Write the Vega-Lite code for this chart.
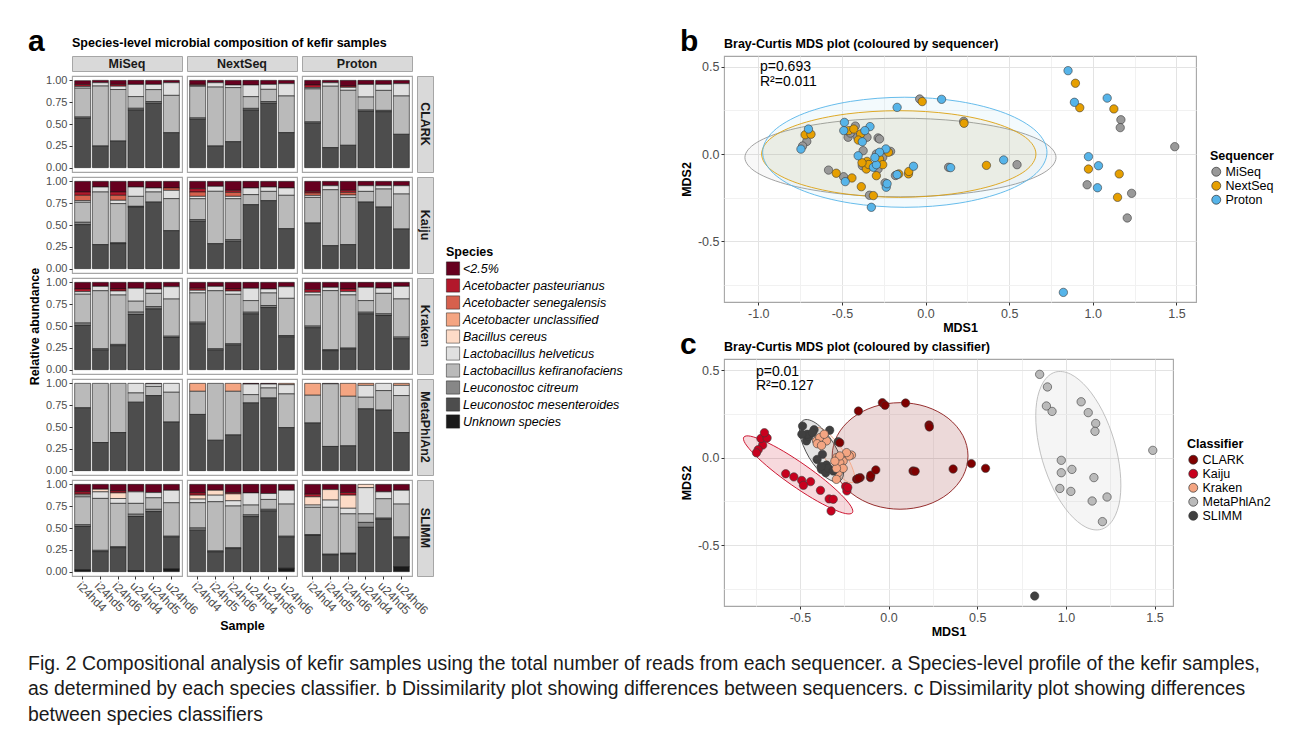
{
"$schema":"https://vega.github.io/schema/vega-lite/v6.json",
"padding":{"left":28,"top":26,"right":5,"bottom":5},
"background":"white",
"datasets":{
"bars":[
{"c":"CLARK","q":"MiSeq","s":"i24hd4","o":0.046,"ap":0.02,"lh":0.02,"lk":0.33,"lc":0.015,"lm":0.565},
{"c":"CLARK","q":"MiSeq","s":"i24hd5","o":0.027,"lh":0.038,"lk":0.687,"lm":0.248},
{"c":"CLARK","q":"MiSeq","s":"i24hd6","o":0.046,"ap":0.02,"lh":0.038,"lk":0.59,"lm":0.305},
{"c":"CLARK","q":"MiSeq","s":"u24hd4","o":0.046,"lh":0.14,"lk":0.134,"lc":0.02,"lm":0.66},
{"c":"CLARK","q":"MiSeq","s":"u24hd5","o":0.046,"lh":0.06,"lk":0.137,"lc":0.02,"lm":0.737},
{"c":"CLARK","q":"MiSeq","s":"u24hd6","o":0.027,"lh":0.145,"lk":0.428,"lm":0.4},
{"c":"CLARK","q":"NextSeq","s":"i24hd4","o":0.046,"ap":0.012,"lh":0.01,"lk":0.363,"lc":0.016,"lm":0.553},
{"c":"CLARK","q":"NextSeq","s":"i24hd5","o":0.027,"lh":0.05,"lk":0.675,"lm":0.248},
{"c":"CLARK","q":"NextSeq","s":"i24hd6","o":0.053,"lh":0.03,"lk":0.62,"lm":0.297},
{"c":"CLARK","q":"NextSeq","s":"u24hd4","o":0.053,"lh":0.134,"lk":0.134,"lc":0.02,"lm":0.659},
{"c":"CLARK","q":"NextSeq","s":"u24hd5","o":0.046,"lh":0.057,"lk":0.14,"lc":0.02,"lm":0.737},
{"c":"CLARK","q":"NextSeq","s":"u24hd6","o":0.038,"lh":0.141,"lk":0.42,"lm":0.401},
{"c":"CLARK","q":"Proton","s":"i24hd4","o":0.053,"ap":0.03,"lh":0.015,"lk":0.378,"lc":0.015,"lm":0.509},
{"c":"CLARK","q":"Proton","s":"i24hd5","o":0.027,"lh":0.04,"lk":0.704,"lm":0.229},
{"c":"CLARK","q":"Proton","s":"i24hd6","o":0.065,"ap":0.015,"lh":0.034,"lk":0.63,"lm":0.256},
{"c":"CLARK","q":"Proton","s":"u24hd4","o":0.046,"lh":0.145,"lk":0.149,"lc":0.015,"lm":0.645},
{"c":"CLARK","q":"Proton","s":"u24hd5","o":0.046,"lh":0.069,"lk":0.229,"lc":0.015,"lm":0.641},
{"c":"CLARK","q":"Proton","s":"u24hd6","o":0.038,"lh":0.141,"lk":0.439,"lm":0.382},
{"c":"Kaiju","q":"MiSeq","s":"i24hd4","o":0.122,"ap":0.038,"as":0.061,"lh":0.019,"lk":0.229,"lc":0.027,"lm":0.504},
{"c":"Kaiju","q":"MiSeq","s":"i24hd5","o":0.065,"lh":0.057,"lk":0.603,"lm":0.275},
{"c":"Kaiju","q":"MiSeq","s":"i24hd6","o":0.122,"ap":0.038,"as":0.057,"lh":0.038,"lk":0.449,"lc":0.01,"lm":0.286},
{"c":"Kaiju","q":"MiSeq","s":"u24hd4","o":0.065,"lh":0.107,"lk":0.114,"lc":0.008,"lm":0.706},
{"c":"Kaiju","q":"MiSeq","s":"u24hd5","o":0.076,"lh":0.046,"lk":0.115,"lm":0.763},
{"c":"Kaiju","q":"MiSeq","s":"u24hd6","o":0.076,"as":0.027,"lh":0.095,"lk":0.367,"lm":0.435},
{"c":"Kaiju","q":"NextSeq","s":"i24hd4","o":0.084,"ap":0.038,"as":0.05,"lh":0.027,"lk":0.24,"lc":0.019,"lm":0.542},
{"c":"Kaiju","q":"NextSeq","s":"i24hd5","o":0.057,"lh":0.057,"lk":0.6,"lm":0.286},
{"c":"Kaiju","q":"NextSeq","s":"i24hd6","o":0.103,"ap":0.023,"as":0.046,"lh":0.027,"lk":0.469,"lc":0.019,"lm":0.313},
{"c":"Kaiju","q":"NextSeq","s":"u24hd4","o":0.076,"lh":0.076,"lk":0.115,"lm":0.733},
{"c":"Kaiju","q":"NextSeq","s":"u24hd5","o":0.065,"lh":0.05,"lk":0.106,"lm":0.779},
{"c":"Kaiju","q":"NextSeq","s":"u24hd6","o":0.076,"lh":0.084,"lk":0.382,"lm":0.458},
{"c":"Kaiju","q":"Proton","s":"i24hd4","o":0.115,"ap":0.019,"as":0.027,"lh":0.023,"lk":0.293,"lm":0.523},
{"c":"Kaiju","q":"Proton","s":"i24hd5","o":0.05,"lh":0.046,"lk":0.641,"lm":0.263},
{"c":"Kaiju","q":"Proton","s":"i24hd6","o":0.103,"ap":0.023,"as":0.031,"lh":0.027,"lk":0.541,"lm":0.275},
{"c":"Kaiju","q":"Proton","s":"u24hd4","o":0.05,"lh":0.065,"lk":0.122,"lm":0.763},
{"c":"Kaiju","q":"Proton","s":"u24hd5","o":0.05,"lh":0.038,"lk":0.206,"lm":0.706},
{"c":"Kaiju","q":"Proton","s":"u24hd6","o":0.05,"lh":0.095,"lk":0.401,"lm":0.454},
{"c":"Kraken","q":"MiSeq","s":"i24hd4","o":0.076,"ap":0.03,"lh":0.03,"lk":0.33,"lc":0.027,"lm":0.507},
{"c":"Kraken","q":"MiSeq","s":"i24hd5","o":0.046,"lh":0.05,"lk":0.665,"lc":0.015,"lm":0.224},
{"c":"Kraken","q":"MiSeq","s":"i24hd6","o":0.076,"ap":0.023,"lh":0.046,"lk":0.566,"lc":0.015,"lm":0.274},
{"c":"Kraken","q":"MiSeq","s":"u24hd4","o":0.068,"lh":0.148,"lk":0.125,"lc":0.027,"lm":0.632},
{"c":"Kraken","q":"MiSeq","s":"u24hd5","o":0.076,"lh":0.05,"lk":0.152,"lc":0.027,"lm":0.695},
{"c":"Kraken","q":"MiSeq","s":"u24hd6","o":0.05,"lh":0.141,"lk":0.426,"lc":0.015,"lm":0.368},
{"c":"Kraken","q":"NextSeq","s":"i24hd4","o":0.068,"ap":0.023,"lh":0.03,"lk":0.335,"lc":0.019,"lm":0.525},
{"c":"Kraken","q":"NextSeq","s":"i24hd5","o":0.046,"lh":0.05,"lk":0.665,"lc":0.015,"lm":0.224},
{"c":"Kraken","q":"NextSeq","s":"i24hd6","o":0.076,"ap":0.023,"lh":0.038,"lk":0.567,"lc":0.015,"lm":0.281},
{"c":"Kraken","q":"NextSeq","s":"u24hd4","o":0.068,"lh":0.141,"lk":0.133,"lc":0.019,"lm":0.639},
{"c":"Kraken","q":"NextSeq","s":"u24hd5","o":0.076,"lh":0.046,"lk":0.144,"lc":0.023,"lm":0.711},
{"c":"Kraken","q":"NextSeq","s":"u24hd6","o":0.05,"lh":0.133,"lk":0.426,"lc":0.015,"lm":0.376},
{"c":"Kraken","q":"Proton","s":"i24hd4","o":0.084,"ap":0.03,"lh":0.03,"lk":0.357,"lc":0.019,"lm":0.48},
{"c":"Kraken","q":"Proton","s":"i24hd5","o":0.057,"lh":0.038,"lk":0.677,"lc":0.011,"lm":0.217},
{"c":"Kraken","q":"Proton","s":"i24hd6","o":0.076,"ap":0.03,"lh":0.038,"lk":0.609,"lc":0.011,"lm":0.236},
{"c":"Kraken","q":"Proton","s":"u24hd4","o":0.057,"lh":0.152,"lk":0.133,"lc":0.019,"lm":0.639},
{"c":"Kraken","q":"Proton","s":"u24hd5","o":0.065,"lh":0.061,"lk":0.235,"lc":0.019,"lm":0.62},
{"c":"Kraken","q":"Proton","s":"u24hd6","o":0.046,"lh":0.144,"lk":0.437,"lc":0.019,"lm":0.354},
{"c":"MetaPhlAn2","q":"MiSeq","s":"i24hd4","lk":0.28,"lm":0.72},
{"c":"MetaPhlAn2","q":"MiSeq","s":"i24hd5","lk":0.678,"lm":0.322},
{"c":"MetaPhlAn2","q":"MiSeq","s":"i24hd6","lk":0.564,"lm":0.436},
{"c":"MetaPhlAn2","q":"MiSeq","s":"u24hd4","lh":0.11,"lk":0.106,"lm":0.784},
{"c":"MetaPhlAn2","q":"MiSeq","s":"u24hd5","o":0.005,"lh":0.03,"lk":0.105,"lm":0.86},
{"c":"MetaPhlAn2","q":"MiSeq","s":"u24hd6","lh":0.102,"lk":0.341,"lm":0.557},
{"c":"MetaPhlAn2","q":"NextSeq","s":"i24hd4","au":0.091,"lk":0.265,"lm":0.644},
{"c":"MetaPhlAn2","q":"NextSeq","s":"i24hd5","lk":0.652,"lm":0.348},
{"c":"MetaPhlAn2","q":"NextSeq","s":"i24hd6","au":0.091,"lk":0.5,"lm":0.409},
{"c":"MetaPhlAn2","q":"NextSeq","s":"u24hd4","o":0.008,"lh":0.121,"lk":0.095,"lm":0.776},
{"c":"MetaPhlAn2","q":"NextSeq","s":"u24hd5","o":0.008,"lh":0.045,"lk":0.114,"lm":0.833},
{"c":"MetaPhlAn2","q":"NextSeq","s":"u24hd6","au":0.015,"lh":0.106,"lk":0.386,"lm":0.493},
{"c":"MetaPhlAn2","q":"Proton","s":"i24hd4","au":0.136,"lk":0.318,"lm":0.546},
{"c":"MetaPhlAn2","q":"Proton","s":"i24hd5","o":0.005,"lk":0.718,"lm":0.277},
{"c":"MetaPhlAn2","q":"Proton","s":"i24hd6","au":0.148,"lk":0.568,"lm":0.284},
{"c":"MetaPhlAn2","q":"Proton","s":"u24hd4","au":0.023,"lh":0.136,"lk":0.133,"lm":0.708},
{"c":"MetaPhlAn2","q":"Proton","s":"u24hd5","lh":0.083,"lk":0.223,"lm":0.694},
{"c":"MetaPhlAn2","q":"Proton","s":"u24hd6","au":0.023,"lh":0.117,"lk":0.424,"lm":0.436},
{"c":"SLIMM","q":"MiSeq","s":"i24hd4","o":0.086,"ap":0.026,"bc":0.011,"lh":0.02,"lk":0.32,"lc":0.019,"lm":0.499,"u":0.019},
{"c":"SLIMM","q":"MiSeq","s":"i24hd5","o":0.056,"bc":0.03,"lh":0.075,"lk":0.595,"lc":0.015,"lm":0.229},
{"c":"SLIMM","q":"MiSeq","s":"i24hd6","o":0.075,"ap":0.023,"bc":0.064,"lh":0.056,"lk":0.497,"lc":0.011,"lm":0.274},
{"c":"SLIMM","q":"MiSeq","s":"u24hd4","o":0.086,"lh":0.132,"lk":0.124,"lc":0.026,"lm":0.621,"u":0.011},
{"c":"SLIMM","q":"MiSeq","s":"u24hd5","o":0.094,"lh":0.06,"lk":0.132,"lc":0.026,"lm":0.688},
{"c":"SLIMM","q":"MiSeq","s":"u24hd6","o":0.068,"lh":0.143,"lk":0.383,"lc":0.011,"lm":0.365,"u":0.03},
{"c":"SLIMM","q":"NextSeq","s":"i24hd4","o":0.098,"ap":0.026,"bc":0.045,"lh":0.041,"lk":0.29,"lc":0.026,"lm":0.474},
{"c":"SLIMM","q":"NextSeq","s":"i24hd5","o":0.068,"bc":0.056,"lh":0.075,"lk":0.564,"lc":0.011,"lm":0.226},
{"c":"SLIMM","q":"NextSeq","s":"i24hd6","o":0.094,"ap":0.015,"bc":0.079,"lh":0.06,"lk":0.478,"lc":0.011,"lm":0.263},
{"c":"SLIMM","q":"NextSeq","s":"u24hd4","o":0.098,"lh":0.139,"lk":0.113,"lc":0.019,"lm":0.631},
{"c":"SLIMM","q":"NextSeq","s":"u24hd5","o":0.105,"lh":0.068,"lk":0.113,"lc":0.019,"lm":0.695},
{"c":"SLIMM","q":"NextSeq","s":"u24hd6","o":0.068,"lh":0.158,"lk":0.368,"lc":0.011,"lm":0.357,"u":0.038},
{"c":"SLIMM","q":"Proton","s":"i24hd4","o":0.113,"ap":0.03,"bc":0.094,"lh":0.026,"lk":0.312,"lc":0.011,"lm":0.414},
{"c":"SLIMM","q":"Proton","s":"i24hd5","o":0.06,"bc":0.12,"lh":0.083,"lk":0.537,"lc":0.008,"lm":0.192},
{"c":"SLIMM","q":"Proton","s":"i24hd6","o":0.094,"ap":0.03,"bc":0.15,"lh":0.064,"lk":0.451,"lc":0.008,"lm":0.203},
{"c":"SLIMM","q":"Proton","s":"u24hd4","bc":0.038,"lh":0.3,"lk":0.098,"lc":0.056,"lm":0.508},
{"c":"SLIMM","q":"Proton","s":"u24hd5","o":0.086,"lh":0.079,"lk":0.222,"lc":0.011,"lm":0.602},
{"c":"SLIMM","q":"Proton","s":"u24hd6","o":0.068,"lh":0.158,"lk":0.376,"lc":0.011,"lm":0.331,"u":0.056}
],
"pts":[
{"cls":"Kaiju","seq":"MiSeq","x":-0.71,"y":0.072},{"cls":"Kaiju","seq":"MiSeq","x":-0.735,"y":0.046},{"cls":"Kaiju","seq":"MiSeq","x":-0.58,"y":-0.092},{"cls":"Kaiju","seq":"MiSeq","x":-0.49,"y":-0.13},{"cls":"Kaiju","seq":"MiSeq","x":-0.335,"y":-0.236},{"cls":"Kaiju","seq":"MiSeq","x":-0.242,"y":-0.165},
{"cls":"SLIMM","seq":"MiSeq","x":-0.463,"y":0.096},{"cls":"SLIMM","seq":"MiSeq","x":-0.284,"y":0.092},{"cls":"SLIMM","seq":"MiSeq","x":-0.373,"y":0.019},{"cls":"SLIMM","seq":"MiSeq","x":-0.378,"y":-0.067},{"cls":"SLIMM","seq":"MiSeq","x":-0.45,"y":0.12},{"cls":"SLIMM","seq":"MiSeq","x":-0.42,"y":0.16},
{"cls":"Kraken","seq":"MiSeq","x":-0.406,"y":0.096},{"cls":"Kraken","seq":"MiSeq","x":-0.35,"y":0.096},{"cls":"Kraken","seq":"MiSeq","x":-0.294,"y":0.0},{"cls":"Kraken","seq":"MiSeq","x":-0.284,"y":-0.086},{"cls":"Kraken","seq":"MiSeq","x":-0.209,"y":0.015},{"cls":"Kraken","seq":"MiSeq","x":-0.256,"y":-0.019},
{"cls":"CLARK","seq":"MiSeq","x":-0.035,"y":0.315},{"cls":"CLARK","seq":"MiSeq","x":0.228,"y":0.187},{"cls":"CLARK","seq":"MiSeq","x":-0.18,"y":-0.123},{"cls":"CLARK","seq":"MiSeq","x":0.138,"y":-0.076},{"cls":"CLARK","seq":"MiSeq","x":0.547,"y":-0.061},{"cls":"CLARK","seq":"MiSeq","x":-0.275,"y":0.086},
{"cls":"MetaPhlAn2","seq":"MiSeq","x":1.168,"y":0.196},{"cls":"MetaPhlAn2","seq":"MiSeq","x":1.164,"y":0.151},{"cls":"MetaPhlAn2","seq":"MiSeq","x":1.49,"y":0.042},{"cls":"MetaPhlAn2","seq":"MiSeq","x":0.966,"y":-0.176},{"cls":"MetaPhlAn2","seq":"MiSeq","x":1.232,"y":-0.225},{"cls":"MetaPhlAn2","seq":"MiSeq","x":1.206,"y":-0.366},
{"cls":"Kaiju","seq":"NextSeq","x":-0.72,"y":0.11},{"cls":"Kaiju","seq":"NextSeq","x":-0.685,"y":0.113},{"cls":"Kaiju","seq":"NextSeq","x":-0.534,"y":-0.11},{"cls":"Kaiju","seq":"NextSeq","x":-0.44,"y":-0.137},{"cls":"Kaiju","seq":"NextSeq","x":-0.384,"y":-0.187},{"cls":"Kaiju","seq":"NextSeq","x":-0.312,"y":-0.238},
{"cls":"SLIMM","seq":"NextSeq","x":-0.459,"y":0.134},{"cls":"SLIMM","seq":"NextSeq","x":-0.429,"y":0.143},{"cls":"SLIMM","seq":"NextSeq","x":-0.35,"y":-0.042},{"cls":"SLIMM","seq":"NextSeq","x":-0.354,"y":-0.086},{"cls":"SLIMM","seq":"NextSeq","x":-0.34,"y":-0.06},{"cls":"SLIMM","seq":"NextSeq","x":-0.38,"y":-0.05},
{"cls":"Kraken","seq":"NextSeq","x":-0.388,"y":0.115},{"cls":"Kraken","seq":"NextSeq","x":-0.402,"y":0.08},{"cls":"Kraken","seq":"NextSeq","x":-0.275,"y":-0.029},{"cls":"Kraken","seq":"NextSeq","x":-0.256,"y":-0.061},{"cls":"Kraken","seq":"NextSeq","x":-0.222,"y":0.01},{"cls":"Kraken","seq":"NextSeq","x":-0.294,"y":-0.124},
{"cls":"CLARK","seq":"NextSeq","x":-0.02,"y":0.3},{"cls":"CLARK","seq":"NextSeq","x":0.23,"y":0.176},{"cls":"CLARK","seq":"NextSeq","x":-0.102,"y":-0.114},{"cls":"CLARK","seq":"NextSeq","x":-0.16,"y":-0.114},{"cls":"CLARK","seq":"NextSeq","x":0.364,"y":-0.065},{"cls":"CLARK","seq":"NextSeq","x":-0.1,"y":-0.1},
{"cls":"MetaPhlAn2","seq":"NextSeq","x":0.896,"y":0.405},{"cls":"MetaPhlAn2","seq":"NextSeq","x":0.922,"y":0.265},{"cls":"MetaPhlAn2","seq":"NextSeq","x":1.126,"y":0.258},{"cls":"MetaPhlAn2","seq":"NextSeq","x":0.974,"y":-0.086},{"cls":"MetaPhlAn2","seq":"NextSeq","x":1.158,"y":-0.114},{"cls":"MetaPhlAn2","seq":"NextSeq","x":1.148,"y":-0.248},
{"cls":"Kaiju","seq":"Proton","x":-0.7,"y":0.143},{"cls":"Kaiju","seq":"Proton","x":-0.745,"y":0.028},{"cls":"Kaiju","seq":"Proton","x":-0.48,"y":-0.158},{"cls":"Kaiju","seq":"Proton","x":-0.324,"y":-0.305},{"cls":"Kaiju","seq":"Proton","x":-0.235,"y":-0.19},{"cls":"Kaiju","seq":"Proton","x":-0.23,"y":-0.17},
{"cls":"SLIMM","seq":"Proton","x":-0.485,"y":0.181},{"cls":"SLIMM","seq":"Proton","x":-0.489,"y":0.134},{"cls":"SLIMM","seq":"Proton","x":-0.332,"y":0.157},{"cls":"SLIMM","seq":"Proton","x":-0.403,"y":-0.01},{"cls":"SLIMM","seq":"Proton","x":-0.312,"y":-0.076},{"cls":"SLIMM","seq":"Proton","x":0.824,"y":-0.792},
{"cls":"Kraken","seq":"Proton","x":-0.363,"y":0.134},{"cls":"Kraken","seq":"Proton","x":-0.378,"y":0.07},{"cls":"Kraken","seq":"Proton","x":-0.294,"y":-0.061},{"cls":"Kraken","seq":"Proton","x":-0.237,"y":0.029},{"cls":"Kraken","seq":"Proton","x":-0.275,"y":0.01},{"cls":"Kraken","seq":"Proton","x":-0.303,"y":-0.02},
{"cls":"CLARK","seq":"Proton","x":-0.17,"y":0.267},{"cls":"CLARK","seq":"Proton","x":0.096,"y":0.313},{"cls":"CLARK","seq":"Proton","x":-0.072,"y":-0.07},{"cls":"CLARK","seq":"Proton","x":0.15,"y":-0.078},{"cls":"CLARK","seq":"Proton","x":0.467,"y":-0.034},{"cls":"CLARK","seq":"Proton","x":-0.17,"y":-0.118},
{"cls":"MetaPhlAn2","seq":"Proton","x":0.852,"y":0.477},{"cls":"MetaPhlAn2","seq":"Proton","x":0.89,"y":0.296},{"cls":"MetaPhlAn2","seq":"Proton","x":1.086,"y":0.32},{"cls":"MetaPhlAn2","seq":"Proton","x":0.974,"y":-0.015},{"cls":"MetaPhlAn2","seq":"Proton","x":1.034,"y":-0.067},{"cls":"MetaPhlAn2","seq":"Proton","x":1.028,"y":-0.193}
],
"ellB":[
{"g":"MiSeq","i":0,"x":0.78,"y":-0.02},{"g":"MiSeq","i":1,"x":0.709,"y":0.066},{"g":"MiSeq","i":2,"x":0.508,"y":0.139},{"g":"MiSeq","i":3,"x":0.206,"y":0.188},{"g":"MiSeq","i":4,"x":-0.15,"y":0.205},{"g":"MiSeq","i":5,"x":-0.506,"y":0.188},{"g":"MiSeq","i":6,"x":-0.808,"y":0.139},{"g":"MiSeq","i":7,"x":-1.009,"y":0.066},{"g":"MiSeq","i":8,"x":-1.08,"y":-0.02},{"g":"MiSeq","i":9,"x":-1.009,"y":-0.106},{"g":"MiSeq","i":10,"x":-0.808,"y":-0.179},{"g":"MiSeq","i":11,"x":-0.506,"y":-0.228},{"g":"MiSeq","i":12,"x":-0.15,"y":-0.245},{"g":"MiSeq","i":13,"x":0.206,"y":-0.228},{"g":"MiSeq","i":14,"x":0.508,"y":-0.179},{"g":"MiSeq","i":15,"x":0.709,"y":-0.106},
{"g":"NextSeq","i":0,"x":0.66,"y":0},{"g":"NextSeq","i":1,"x":0.598,"y":0.095},{"g":"NextSeq","i":2,"x":0.42,"y":0.175},{"g":"NextSeq","i":3,"x":0.154,"y":0.229},{"g":"NextSeq","i":4,"x":-0.16,"y":0.248},{"g":"NextSeq","i":5,"x":-0.474,"y":0.229},{"g":"NextSeq","i":6,"x":-0.74,"y":0.175},{"g":"NextSeq","i":7,"x":-0.918,"y":0.095},{"g":"NextSeq","i":8,"x":-0.98,"y":0},{"g":"NextSeq","i":9,"x":-0.918,"y":-0.095},{"g":"NextSeq","i":10,"x":-0.74,"y":-0.175},{"g":"NextSeq","i":11,"x":-0.474,"y":-0.229},{"g":"NextSeq","i":12,"x":-0.16,"y":-0.248},{"g":"NextSeq","i":13,"x":0.154,"y":-0.229},{"g":"NextSeq","i":14,"x":0.42,"y":-0.175},{"g":"NextSeq","i":15,"x":0.598,"y":-0.095},
{"g":"Proton","i":0,"x":0.726,"y":0.01},{"g":"Proton","i":1,"x":0.661,"y":0.131},{"g":"Proton","i":2,"x":0.477,"y":0.233},{"g":"Proton","i":3,"x":0.201,"y":0.301},{"g":"Proton","i":4,"x":-0.124,"y":0.325},{"g":"Proton","i":5,"x":-0.449,"y":0.301},{"g":"Proton","i":6,"x":-0.725,"y":0.233},{"g":"Proton","i":7,"x":-0.909,"y":0.131},{"g":"Proton","i":8,"x":-0.974,"y":0.01},{"g":"Proton","i":9,"x":-0.909,"y":-0.111},{"g":"Proton","i":10,"x":-0.725,"y":-0.213},{"g":"Proton","i":11,"x":-0.449,"y":-0.281},{"g":"Proton","i":12,"x":-0.124,"y":-0.305},{"g":"Proton","i":13,"x":0.201,"y":-0.281},{"g":"Proton","i":14,"x":0.477,"y":-0.213},{"g":"Proton","i":15,"x":0.661,"y":-0.111}
],
"ellC":[
{"g":"CLARK","i":0,"x":0.448,"y":0.01},{"g":"CLARK","i":1,"x":0.419,"y":0.127},{"g":"CLARK","i":2,"x":0.336,"y":0.226},{"g":"CLARK","i":3,"x":0.212,"y":0.292},{"g":"CLARK","i":4,"x":0.065,"y":0.315},{"g":"CLARK","i":5,"x":-0.082,"y":0.292},{"g":"CLARK","i":6,"x":-0.206,"y":0.226},{"g":"CLARK","i":7,"x":-0.289,"y":0.127},{"g":"CLARK","i":8,"x":-0.318,"y":0.01},{"g":"CLARK","i":9,"x":-0.289,"y":-0.107},{"g":"CLARK","i":10,"x":-0.206,"y":-0.206},{"g":"CLARK","i":11,"x":-0.082,"y":-0.272},{"g":"CLARK","i":12,"x":0.065,"y":-0.295},{"g":"CLARK","i":13,"x":0.212,"y":-0.272},{"g":"CLARK","i":14,"x":0.336,"y":-0.206},{"g":"CLARK","i":15,"x":0.419,"y":-0.107},
{"g":"Kaiju","i":0,"x":-0.204,"y":-0.315},{"g":"Kaiju","i":1,"x":-0.212,"y":-0.278},{"g":"Kaiju","i":2,"x":-0.266,"y":-0.213},{"g":"Kaiju","i":3,"x":-0.357,"y":-0.13},{"g":"Kaiju","i":4,"x":-0.471,"y":-0.043},{"g":"Kaiju","i":5,"x":-0.591,"y":0.036},{"g":"Kaiju","i":6,"x":-0.699,"y":0.094},{"g":"Kaiju","i":7,"x":-0.778,"y":0.123},{"g":"Kaiju","i":8,"x":-0.816,"y":0.118},{"g":"Kaiju","i":9,"x":-0.808,"y":0.081},{"g":"Kaiju","i":10,"x":-0.754,"y":0.016},{"g":"Kaiju","i":11,"x":-0.663,"y":-0.067},{"g":"Kaiju","i":12,"x":-0.549,"y":-0.154},{"g":"Kaiju","i":13,"x":-0.429,"y":-0.233},{"g":"Kaiju","i":14,"x":-0.321,"y":-0.291},{"g":"Kaiju","i":15,"x":-0.242,"y":-0.32},
{"g":"Kraken","i":0,"x":-0.2,"y":-0.14},{"g":"Kraken","i":1,"x":-0.191,"y":-0.116},{"g":"Kraken","i":2,"x":-0.199,"y":-0.073},{"g":"Kraken","i":3,"x":-0.223,"y":-0.016},{"g":"Kraken","i":4,"x":-0.26,"y":0.046},{"g":"Kraken","i":5,"x":-0.303,"y":0.103},{"g":"Kraken","i":6,"x":-0.347,"y":0.146},{"g":"Kraken","i":7,"x":-0.385,"y":0.17},{"g":"Kraken","i":8,"x":-0.41,"y":0.17},{"g":"Kraken","i":9,"x":-0.419,"y":0.146},{"g":"Kraken","i":10,"x":-0.411,"y":0.103},{"g":"Kraken","i":11,"x":-0.387,"y":0.046},{"g":"Kraken","i":12,"x":-0.351,"y":-0.016},{"g":"Kraken","i":13,"x":-0.307,"y":-0.073},{"g":"Kraken","i":14,"x":-0.263,"y":-0.116},{"g":"Kraken","i":15,"x":-0.226,"y":-0.14},
{"g":"MetaPhlAn2","i":0,"x":1.2,"y":-0.41},{"g":"MetaPhlAn2","i":1,"x":1.267,"y":-0.353},{"g":"MetaPhlAn2","i":2,"x":1.305,"y":-0.237},{"g":"MetaPhlAn2","i":3,"x":1.306,"y":-0.078},{"g":"MetaPhlAn2","i":4,"x":1.272,"y":0.098},{"g":"MetaPhlAn2","i":5,"x":1.207,"y":0.266},{"g":"MetaPhlAn2","i":6,"x":1.121,"y":0.399},{"g":"MetaPhlAn2","i":7,"x":1.027,"y":0.478},{"g":"MetaPhlAn2","i":8,"x":0.94,"y":0.49},{"g":"MetaPhlAn2","i":9,"x":0.873,"y":0.433},{"g":"MetaPhlAn2","i":10,"x":0.835,"y":0.317},{"g":"MetaPhlAn2","i":11,"x":0.834,"y":0.158},{"g":"MetaPhlAn2","i":12,"x":0.868,"y":-0.018},{"g":"MetaPhlAn2","i":13,"x":0.933,"y":-0.186},{"g":"MetaPhlAn2","i":14,"x":1.019,"y":-0.319},{"g":"MetaPhlAn2","i":15,"x":1.113,"y":-0.398},
{"g":"SLIMM","i":0,"x":-0.275,"y":-0.134},{"g":"SLIMM","i":1,"x":-0.256,"y":-0.105},{"g":"SLIMM","i":2,"x":-0.256,"y":-0.054},{"g":"SLIMM","i":3,"x":-0.275,"y":0.011},{"g":"SLIMM","i":4,"x":-0.309,"y":0.081},{"g":"SLIMM","i":5,"x":-0.354,"y":0.144},{"g":"SLIMM","i":6,"x":-0.402,"y":0.192},{"g":"SLIMM","i":7,"x":-0.447,"y":0.216},{"g":"SLIMM","i":8,"x":-0.481,"y":0.214},{"g":"SLIMM","i":9,"x":-0.5,"y":0.185},{"g":"SLIMM","i":10,"x":-0.5,"y":0.134},{"g":"SLIMM","i":11,"x":-0.481,"y":0.069},{"g":"SLIMM","i":12,"x":-0.447,"y":-0.001},{"g":"SLIMM","i":13,"x":-0.402,"y":-0.064},{"g":"SLIMM","i":14,"x":-0.354,"y":-0.112},{"g":"SLIMM","i":15,"x":-0.309,"y":-0.136}
]
},
"title":{"text":["Fig. 2 Compositional analysis of kefir samples using the total number of reads from each sequencer. a Species-level profile of the kefir samples,","as determined by each species classifier. b Dissimilarity plot showing differences between sequencers. c Dissimilarity plot showing differences","between species classifiers"],"orient":"bottom","anchor":"start","frame":"bounds","font":"Liberation Sans","fontSize":19.4,"fontWeight":"normal","lineHeight":25.5,"offset":16,"color":"#1a1a1a"},
"spacing":56,
"resolve":{"scale":{"color":"independent","fill":"independent","stroke":"independent"}},
"hconcat":[
{"title":{"text":"a","fontSize":30,"fontWeight":"bold","anchor":"start","frame":"bounds","offset":-20,"color":"#000"},
 "vconcat":[
 {"title":{"text":"Species-level microbial composition of kefir samples","anchor":"start","frame":"group","fontSize":12.5,"fontWeight":"bold","offset":6},
  "data":{"name":"bars"},
  "transform":[{"fold":["o","ap","as","au","bc","lh","lk","lc","lm","u"],"as":["k","v"]},{"filter":"isValid(datum.v) && datum.v > 0"},{"lookup":"k","from":{"data":{"values":[{"k":"o","n":"<2.5%","r":0},{"k":"ap","n":"Acetobacter pasteurianus","r":1},{"k":"as","n":"Acetobacter senegalensis","r":2},{"k":"au","n":"Acetobacter unclassified","r":3},{"k":"bc","n":"Bacillus cereus","r":4},{"k":"lh","n":"Lactobacillus helveticus","r":5},{"k":"lk","n":"Lactobacillus kefiranofaciens","r":6},{"k":"lc","n":"Leuconostoc citreum","r":7},{"k":"lm","n":"Leuconostoc mesenteroides","r":8},{"k":"u","n":"Unknown species","r":9}]},"key":"k","fields":["n","r"]}}],
  "columns":4,"spacing":{"row":5,"column":5},"bounds":"flush","align":"each",
  "concat":[
   {"width":110,"height":15,"data":{"values":[{"t":"MiSeq"}]},"view":{"fill":"#d9d9d9","stroke":"#a6a6a6"},"mark":{"type":"text","fontWeight":"bold","fontSize":12.5,"color":"#1a1a1a"},"encoding":{"text":{"field":"t"}}},
   {"width":110,"height":15,"data":{"values":[{"t":"NextSeq"}]},"view":{"fill":"#d9d9d9","stroke":"#a6a6a6"},"mark":{"type":"text","fontWeight":"bold","fontSize":12.5,"color":"#1a1a1a"},"encoding":{"text":{"field":"t"}}},
   {"width":110,"height":15,"data":{"values":[{"t":"Proton"}]},"view":{"fill":"#d9d9d9","stroke":"#a6a6a6"},"mark":{"type":"text","fontWeight":"bold","fontSize":12.5,"color":"#1a1a1a"},"encoding":{"text":{"field":"t"}}},
   {"width":16,"height":15,"data":{"values":[{"t":""}]},"view":{"stroke":null},"mark":{"type":"text"},"encoding":{"text":{"field":"t"}}},

   {"width":110,"height":96,"transform":[{"filter":"datum.c==='CLARK'&&datum.q==='MiSeq'"}],"mark":{"type":"bar","stroke":"#1a1a1a","strokeWidth":0.6},"encoding":{"x":{"field":"s","type":"nominal","scale":{"paddingInner":0.1,"paddingOuter":0.15},"axis":null},"y":{"field":"v","type":"quantitative","scale":{"domain":[-0.05,1.05],"nice":false,"zero":false},"axis":{"values":[0,0.25,0.5,0.75,1],"format":".2f","title":null,"grid":false,"domain":false,"tickSize":3,"labelFontSize":11,"labelPadding":2}},"color":{"field":"n","type":"nominal","legend":{"title":"Species","orient":"none","legendX":374,"legendY":190,"symbolType":"square","symbolSize":175,"symbolStrokeColor":"#444","symbolStrokeWidth":0.5,"labelFontStyle":"italic","rowPadding":1,"labelOffset":3,"titlePadding":3}},"order":{"field":"r","sort":"descending"}}},
   {"width":110,"height":96,"transform":[{"filter":"datum.c==='CLARK'&&datum.q==='NextSeq'"}],"mark":{"type":"bar","stroke":"#1a1a1a","strokeWidth":0.6},"encoding":{"x":{"field":"s","type":"nominal","scale":{"paddingInner":0.1,"paddingOuter":0.15},"axis":null},"y":{"field":"v","type":"quantitative","scale":{"domain":[-0.05,1.05],"nice":false,"zero":false},"axis":null},"color":{"field":"n","type":"nominal"},"order":{"field":"r","sort":"descending"}}},
   {"width":110,"height":96,"transform":[{"filter":"datum.c==='CLARK'&&datum.q==='Proton'"}],"mark":{"type":"bar","stroke":"#1a1a1a","strokeWidth":0.6},"encoding":{"x":{"field":"s","type":"nominal","scale":{"paddingInner":0.1,"paddingOuter":0.15},"axis":null},"y":{"field":"v","type":"quantitative","scale":{"domain":[-0.05,1.05],"nice":false,"zero":false},"axis":null},"color":{"field":"n","type":"nominal"},"order":{"field":"r","sort":"descending"}}},
   {"width":16,"height":96,"data":{"values":[{"t":"CLARK"}]},"view":{"fill":"#d9d9d9","stroke":"#a6a6a6"},"mark":{"type":"text","fontWeight":"bold","fontSize":12.5,"angle":90,"color":"#1a1a1a"},"encoding":{"text":{"field":"t"}}},

   {"width":110,"height":96,"transform":[{"filter":"datum.c==='Kaiju'&&datum.q==='MiSeq'"}],"mark":{"type":"bar","stroke":"#1a1a1a","strokeWidth":0.6},"encoding":{"x":{"field":"s","type":"nominal","scale":{"paddingInner":0.1,"paddingOuter":0.15},"axis":null},"y":{"field":"v","type":"quantitative","scale":{"domain":[-0.05,1.05],"nice":false,"zero":false},"axis":{"values":[0,0.25,0.5,0.75,1],"format":".2f","title":null,"grid":false,"domain":false,"tickSize":3,"labelFontSize":11,"labelPadding":2}},"color":{"field":"n","type":"nominal"},"order":{"field":"r","sort":"descending"}}},
   {"width":110,"height":96,"transform":[{"filter":"datum.c==='Kaiju'&&datum.q==='NextSeq'"}],"mark":{"type":"bar","stroke":"#1a1a1a","strokeWidth":0.6},"encoding":{"x":{"field":"s","type":"nominal","scale":{"paddingInner":0.1,"paddingOuter":0.15},"axis":null},"y":{"field":"v","type":"quantitative","scale":{"domain":[-0.05,1.05],"nice":false,"zero":false},"axis":null},"color":{"field":"n","type":"nominal"},"order":{"field":"r","sort":"descending"}}},
   {"width":110,"height":96,"transform":[{"filter":"datum.c==='Kaiju'&&datum.q==='Proton'"}],"mark":{"type":"bar","stroke":"#1a1a1a","strokeWidth":0.6},"encoding":{"x":{"field":"s","type":"nominal","scale":{"paddingInner":0.1,"paddingOuter":0.15},"axis":null},"y":{"field":"v","type":"quantitative","scale":{"domain":[-0.05,1.05],"nice":false,"zero":false},"axis":null},"color":{"field":"n","type":"nominal"},"order":{"field":"r","sort":"descending"}}},
   {"width":16,"height":96,"data":{"values":[{"t":"Kaiju"}]},"view":{"fill":"#d9d9d9","stroke":"#a6a6a6"},"mark":{"type":"text","fontWeight":"bold","fontSize":12.5,"angle":90,"color":"#1a1a1a"},"encoding":{"text":{"field":"t"}}},

   {"width":110,"height":96,"transform":[{"filter":"datum.c==='Kraken'&&datum.q==='MiSeq'"}],"mark":{"type":"bar","stroke":"#1a1a1a","strokeWidth":0.6},"encoding":{"x":{"field":"s","type":"nominal","scale":{"paddingInner":0.1,"paddingOuter":0.15},"axis":null},"y":{"field":"v","type":"quantitative","scale":{"domain":[-0.05,1.05],"nice":false,"zero":false},"axis":{"values":[0,0.25,0.5,0.75,1],"format":".2f","title":"Relative abundance","titlePadding":4,"grid":false,"domain":false,"tickSize":3,"labelFontSize":11,"labelPadding":2}},"color":{"field":"n","type":"nominal"},"order":{"field":"r","sort":"descending"}}},
   {"width":110,"height":96,"transform":[{"filter":"datum.c==='Kraken'&&datum.q==='NextSeq'"}],"mark":{"type":"bar","stroke":"#1a1a1a","strokeWidth":0.6},"encoding":{"x":{"field":"s","type":"nominal","scale":{"paddingInner":0.1,"paddingOuter":0.15},"axis":null},"y":{"field":"v","type":"quantitative","scale":{"domain":[-0.05,1.05],"nice":false,"zero":false},"axis":null},"color":{"field":"n","type":"nominal"},"order":{"field":"r","sort":"descending"}}},
   {"width":110,"height":96,"transform":[{"filter":"datum.c==='Kraken'&&datum.q==='Proton'"}],"mark":{"type":"bar","stroke":"#1a1a1a","strokeWidth":0.6},"encoding":{"x":{"field":"s","type":"nominal","scale":{"paddingInner":0.1,"paddingOuter":0.15},"axis":null},"y":{"field":"v","type":"quantitative","scale":{"domain":[-0.05,1.05],"nice":false,"zero":false},"axis":null},"color":{"field":"n","type":"nominal"},"order":{"field":"r","sort":"descending"}}},
   {"width":16,"height":96,"data":{"values":[{"t":"Kraken"}]},"view":{"fill":"#d9d9d9","stroke":"#a6a6a6"},"mark":{"type":"text","fontWeight":"bold","fontSize":12.5,"angle":90,"color":"#1a1a1a"},"encoding":{"text":{"field":"t"}}},

   {"width":110,"height":96,"transform":[{"filter":"datum.c==='MetaPhlAn2'&&datum.q==='MiSeq'"}],"mark":{"type":"bar","stroke":"#1a1a1a","strokeWidth":0.6},"encoding":{"x":{"field":"s","type":"nominal","scale":{"paddingInner":0.1,"paddingOuter":0.15},"axis":null},"y":{"field":"v","type":"quantitative","scale":{"domain":[-0.05,1.05],"nice":false,"zero":false},"axis":{"values":[0,0.25,0.5,0.75,1],"format":".2f","title":null,"grid":false,"domain":false,"tickSize":3,"labelFontSize":11,"labelPadding":2}},"color":{"field":"n","type":"nominal"},"order":{"field":"r","sort":"descending"}}},
   {"width":110,"height":96,"transform":[{"filter":"datum.c==='MetaPhlAn2'&&datum.q==='NextSeq'"}],"mark":{"type":"bar","stroke":"#1a1a1a","strokeWidth":0.6},"encoding":{"x":{"field":"s","type":"nominal","scale":{"paddingInner":0.1,"paddingOuter":0.15},"axis":null},"y":{"field":"v","type":"quantitative","scale":{"domain":[-0.05,1.05],"nice":false,"zero":false},"axis":null},"color":{"field":"n","type":"nominal"},"order":{"field":"r","sort":"descending"}}},
   {"width":110,"height":96,"transform":[{"filter":"datum.c==='MetaPhlAn2'&&datum.q==='Proton'"}],"mark":{"type":"bar","stroke":"#1a1a1a","strokeWidth":0.6},"encoding":{"x":{"field":"s","type":"nominal","scale":{"paddingInner":0.1,"paddingOuter":0.15},"axis":null},"y":{"field":"v","type":"quantitative","scale":{"domain":[-0.05,1.05],"nice":false,"zero":false},"axis":null},"color":{"field":"n","type":"nominal"},"order":{"field":"r","sort":"descending"}}},
   {"width":16,"height":96,"data":{"values":[{"t":"MetaPhlAn2"}]},"view":{"fill":"#d9d9d9","stroke":"#a6a6a6"},"mark":{"type":"text","fontWeight":"bold","fontSize":12.5,"angle":90,"color":"#1a1a1a"},"encoding":{"text":{"field":"t"}}},

   {"width":110,"height":96,"transform":[{"filter":"datum.c==='SLIMM'&&datum.q==='MiSeq'"}],"mark":{"type":"bar","stroke":"#1a1a1a","strokeWidth":0.6},"encoding":{"x":{"field":"s","type":"nominal","scale":{"paddingInner":0.1,"paddingOuter":0.15},"axis":{"title":null,"labelAngle":45,"labelAlign":"left","labelBaseline":"top","labelFontSize":12,"domain":false,"tickSize":3,"labelPadding":1,"grid":false}},"y":{"field":"v","type":"quantitative","scale":{"domain":[-0.05,1.05],"nice":false,"zero":false},"axis":{"values":[0,0.25,0.5,0.75,1],"format":".2f","title":null,"grid":false,"domain":false,"tickSize":3,"labelFontSize":11,"labelPadding":2}},"color":{"field":"n","type":"nominal"},"order":{"field":"r","sort":"descending"}}},
   {"width":110,"height":96,"transform":[{"filter":"datum.c==='SLIMM'&&datum.q==='NextSeq'"}],"mark":{"type":"bar","stroke":"#1a1a1a","strokeWidth":0.6},"encoding":{"x":{"field":"s","type":"nominal","scale":{"paddingInner":0.1,"paddingOuter":0.15},"axis":{"title":"Sample","titlePadding":3,"labelAngle":45,"labelAlign":"left","labelBaseline":"top","labelFontSize":12,"domain":false,"tickSize":3,"labelPadding":1,"grid":false}},"y":{"field":"v","type":"quantitative","scale":{"domain":[-0.05,1.05],"nice":false,"zero":false},"axis":null},"color":{"field":"n","type":"nominal"},"order":{"field":"r","sort":"descending"}}},
   {"width":110,"height":96,"transform":[{"filter":"datum.c==='SLIMM'&&datum.q==='Proton'"}],"mark":{"type":"bar","stroke":"#1a1a1a","strokeWidth":0.6},"encoding":{"x":{"field":"s","type":"nominal","scale":{"paddingInner":0.1,"paddingOuter":0.15},"axis":{"title":null,"labelAngle":45,"labelAlign":"left","labelBaseline":"top","labelFontSize":12,"domain":false,"tickSize":3,"labelPadding":1,"grid":false}},"y":{"field":"v","type":"quantitative","scale":{"domain":[-0.05,1.05],"nice":false,"zero":false},"axis":null},"color":{"field":"n","type":"nominal"},"order":{"field":"r","sort":"descending"}}},
   {"width":16,"height":96,"data":{"values":[{"t":"SLIMM"}]},"view":{"fill":"#d9d9d9","stroke":"#a6a6a6"},"mark":{"type":"text","fontWeight":"bold","fontSize":12.5,"angle":90,"color":"#1a1a1a"},"encoding":{"text":{"field":"t"}}}
  ]
 }
 ]
},
{"vconcat":[
 {"title":{"text":"b","fontSize":30,"fontWeight":"bold","anchor":"start","frame":"bounds","offset":-20,"color":"#000"},
  "vconcat":[
  {"width":472,"height":246,
   "title":{"text":"Bray-Curtis MDS plot (coloured by sequencer)","anchor":"start","frame":"group","fontSize":12.5,"fontWeight":"bold","offset":6},
   "layer":[
    {"data":{"name":"ellB"},"mark":{"type":"line","interpolate":"cardinal-closed","strokeWidth":0.9,"fillOpacity":0.07},
     "encoding":{
      "x":{"field":"x","type":"quantitative","scale":{"domain":[-1.205,1.617],"nice":false,"zero":false},"axis":{"title":"MDS1","values":[-1,-0.75,-0.5,-0.25,0,0.25,0.5,0.75,1,1.25,1.5],"labelExpr":"abs(datum.value % 0.5) < 0.001 ? replace(format(datum.value, '.1f'), '\u2212', '-') : ''","gridColor":{"condition":{"test":"abs(datum.value % 0.5) < 0.001","value":"#e3e3e3"},"value":"#f1f1f1"},"tickColor":{"condition":{"test":"abs(datum.value % 0.5) < 0.001","value":"#333333"},"value":"transparent"},"domain":false,"tickSize":3,"labelFontSize":12.5,"titlePadding":2}},
      "y":{"field":"y","type":"quantitative","scale":{"domain":[-0.847,0.561],"nice":false,"zero":false},"axis":{"title":"MDS2","values":[-0.75,-0.5,-0.25,0,0.25,0.5],"labelExpr":"abs(datum.value % 0.5) < 0.001 ? replace(format(datum.value, '.1f'), '\u2212', '-') : ''","gridColor":{"condition":{"test":"abs(datum.value % 0.5) < 0.001","value":"#e3e3e3"},"value":"#f1f1f1"},"tickColor":{"condition":{"test":"abs(datum.value % 0.5) < 0.001","value":"#333333"},"value":"transparent"},"domain":false,"tickSize":3,"labelFontSize":12.5,"titlePadding":4}},
      "order":{"field":"i","type":"quantitative"},
      "stroke":{"field":"g","type":"nominal","scale":{"domain":["MiSeq","NextSeq","Proton","s_"],"range":["#999999","#E69F00","#56B4E9","#000000"]},"legend":null},
      "fill":{"field":"g","type":"nominal","scale":{"domain":["MiSeq","NextSeq","Proton","f_"],"range":["#999999","#E69F00","#56B4E9","#000000"]},"legend":null}}},
    {"data":{"name":"pts"},"mark":{"type":"circle","size":70,"opacity":1,"stroke":"#3a3a3a","strokeWidth":0.6},
     "encoding":{"x":{"field":"x","type":"quantitative"},"y":{"field":"y","type":"quantitative"},
      "color":{"field":"seq","type":"nominal","scale":{"domain":["MiSeq","NextSeq","Proton"],"range":["#999999","#E69F00","#56B4E9"]},"legend":{"title":"Sequencer","orient":"none","legendX":486,"legendY":94,"symbolType":"circle","symbolSize":80,"symbolStrokeColor":"#333","symbolStrokeWidth":0.7,"rowPadding":1,"labelOffset":3,"titlePadding":3}}}},
    {"data":{"values":[{"x":-0.99,"y":0.5,"t":"p=0.693"},{"x":-0.99,"y":0.41,"t":"R²=0.011"}]},"mark":{"type":"text","align":"left","baseline":"middle","fontSize":14,"color":"#000"},
     "encoding":{"x":{"field":"x","type":"quantitative"},"y":{"field":"y","type":"quantitative"},"text":{"field":"t"}}}
   ]}
  ]},
 {"title":{"text":"c","fontSize":30,"fontWeight":"bold","anchor":"start","frame":"bounds","offset":-20,"color":"#000"},
  "vconcat":[
  {"width":449,"height":247,
   "title":{"text":"Bray-Curtis MDS plot (coloured by classifier)","anchor":"start","frame":"group","fontSize":12.5,"fontWeight":"bold","offset":6},
   "layer":[
    {"data":{"name":"ellC"},"mark":{"type":"line","interpolate":"cardinal-closed","strokeWidth":0.9,"fillOpacity":0.15},
     "encoding":{
      "x":{"field":"x","type":"quantitative","scale":{"domain":[-0.928,1.604],"nice":false,"zero":false},"axis":{"title":"MDS1","values":[-0.75,-0.5,-0.25,0,0.25,0.5,0.75,1,1.25,1.5],"labelExpr":"abs(datum.value % 0.5) < 0.001 ? replace(format(datum.value, '.1f'), '\u2212', '-') : ''","gridColor":{"condition":{"test":"abs(datum.value % 0.5) < 0.001","value":"#e3e3e3"},"value":"#f1f1f1"},"tickColor":{"condition":{"test":"abs(datum.value % 0.5) < 0.001","value":"#333333"},"value":"transparent"},"domain":false,"tickSize":3,"labelFontSize":12.5,"titlePadding":2}},
      "y":{"field":"y","type":"quantitative","scale":{"domain":[-0.849,0.565],"nice":false,"zero":false},"axis":{"title":"MDS2","values":[-0.75,-0.5,-0.25,0,0.25,0.5],"labelExpr":"abs(datum.value % 0.5) < 0.001 ? replace(format(datum.value, '.1f'), '\u2212', '-') : ''","gridColor":{"condition":{"test":"abs(datum.value % 0.5) < 0.001","value":"#e3e3e3"},"value":"#f1f1f1"},"tickColor":{"condition":{"test":"abs(datum.value % 0.5) < 0.001","value":"#333333"},"value":"transparent"},"domain":false,"tickSize":3,"labelFontSize":12.5,"titlePadding":4}},
      "order":{"field":"i","type":"quantitative"},
      "stroke":{"field":"g","type":"nominal","scale":{"domain":["CLARK","Kaiju","Kraken","MetaPhlAn2","SLIMM","s_"],"range":["#8b1a1a","#c8001e","#f4a582","#bababa","#404040","#000000"]},"legend":null},
      "fill":{"field":"g","type":"nominal","scale":{"domain":["CLARK","Kaiju","Kraken","MetaPhlAn2","SLIMM","f_"],"range":["#7f0000","#c8001e","#f4a582","#bababa","#404040","#000000"]},"legend":null}}},
    {"data":{"name":"pts"},"mark":{"type":"circle","size":70,"opacity":1,"stroke":"#3a3a3a","strokeWidth":0.6},
     "encoding":{"x":{"field":"x","type":"quantitative"},"y":{"field":"y","type":"quantitative"},
      "color":{"field":"cls","type":"nominal","scale":{"domain":["CLARK","Kaiju","Kraken","MetaPhlAn2","SLIMM"],"range":["#7f0000","#c8001e","#f4a582","#bababa","#404040"]},"legend":{"title":"Classifier","orient":"none","legendX":463,"legendY":79,"symbolType":"circle","symbolSize":80,"symbolStrokeColor":"#333","symbolStrokeWidth":0.7,"rowPadding":1,"labelOffset":3,"titlePadding":3}}}},
    {"data":{"values":[{"x":-0.748,"y":0.49,"t":"p=0.01"},{"x":-0.748,"y":0.41,"t":"R²=0.127"}]},"mark":{"type":"text","align":"left","baseline":"middle","fontSize":14,"color":"#000"},
     "encoding":{"x":{"field":"x","type":"quantitative"},"y":{"field":"y","type":"quantitative"},"text":{"field":"t"}}}
   ]}
  ]}
 ],
 "spacing":-6,
 "resolve":{"scale":{"color":"independent","fill":"independent","stroke":"independent"}}
}
],
"config":{
 "font":"Liberation Sans",
 "view":{"stroke":"#a6a6a6","strokeWidth":1.1},
 "range":{"category":["#67001f","#b2182b","#d6604d","#f4a582","#fddbc7","#e0e0e0","#bababa","#878787","#4d4d4d","#1a1a1a"]},
 "axis":{"labelFont":"Liberation Sans","titleFont":"Liberation Sans","labelColor":"#4d4d4d","titleColor":"#000","tickColor":"#333","titleFontWeight":"bold","titleFontSize":12.5,"labelFontSize":12},
 "legend":{"titleFontSize":12.5,"labelFontSize":12.5,"titleColor":"#000","labelColor":"#000","titleFontWeight":"bold","labelFont":"Liberation Sans","titleFont":"Liberation Sans"},
 "title":{"font":"Liberation Sans","color":"#000"}
}
}
